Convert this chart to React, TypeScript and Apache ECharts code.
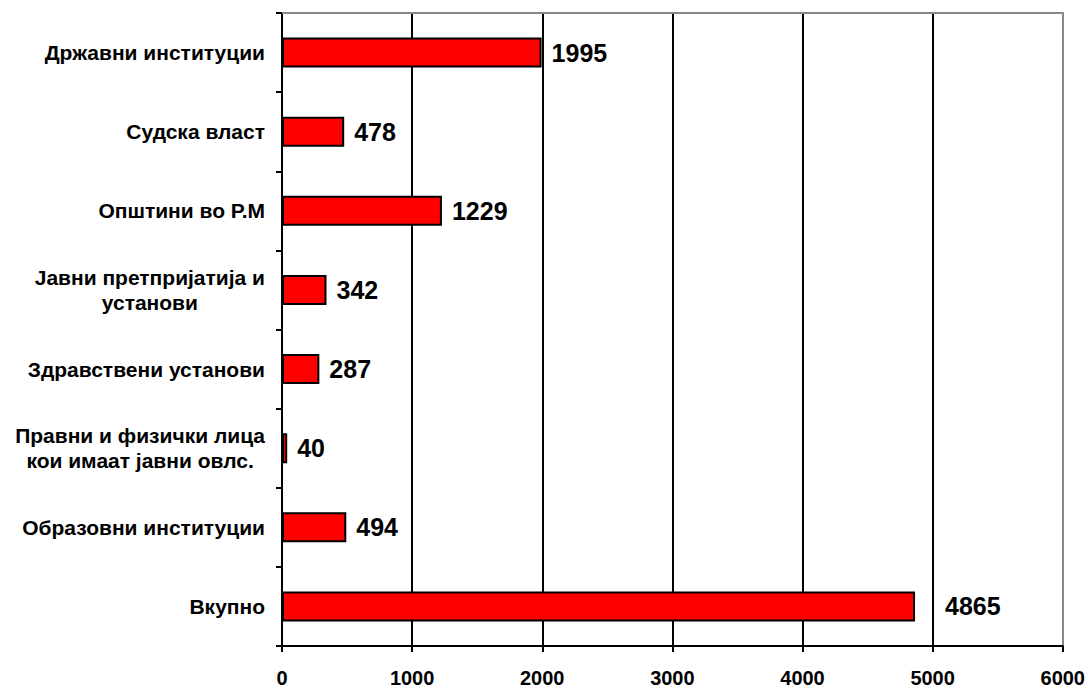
import React, { useEffect, useRef } from "react";
import * as echarts from "echarts";

const categories = [
  "Државни институции",
  "Судска власт",
  "Општини во Р.М",
  "Јавни претпријатија и\nустанови",
  "Здравствени установи",
  "Правни и физички лица\nкои имаат јавни овлс.",
  "Образовни институции",
  "Вкупно",
];
const values = [1995, 478, 1229, 342, 287, 40, 494, 4865];
const labelGaps = [10, 10, 10, 10, 10, 10, 10, 30];
const xTicks = { min: 0, max: 6000, interval: 1000 };

const GRID = { left: 282, right: 25, top: 13, bottom: 41 };

export default function App() {
  const ref = useRef<HTMLDivElement>(null);
  useEffect(() => {
    if (!ref.current) return;
    const chart = echarts.init(ref.current, null, { renderer: "svg" });
    const font = "'Liberation Sans', Arial, sans-serif";
    chart.setOption({
      animation: false,
      backgroundColor: "#ffffff",
      grid: { ...GRID },
      graphic: {
        elements: [
          {
            type: "rect",
            left: GRID.left,
            top: GRID.top - 1,
            z: 100,
            shape: { width: 1088 - GRID.right - GRID.left + 1, height: 2 },
            style: { fill: "#888888" },
          },
        ],
      },
      xAxis: {
        type: "value",
        min: xTicks.min,
        max: xTicks.max,
        interval: xTicks.interval,
        axisLine: { show: true, lineStyle: { color: "#000", width: 2 } },
        axisTick: { show: true, length: 6, lineStyle: { color: "#000", width: 2 } },
        axisLabel: {
          color: "#000",
          fontFamily: font,
          fontWeight: "bold",
          fontSize: 20,
          margin: 22,
          formatter: (v: number) => String(v),
        },
        splitLine: {
          show: true,
          lineStyle: {
            color: ["#000", "#000", "#000", "#000", "#000", "#000", "#888"],
            width: 2,
          },
        },
      },
      yAxis: {
        type: "category",
        inverse: true,
        data: categories,
        z: 5,
        axisLine: { show: true, lineStyle: { color: "#000", width: 2 } },
        axisTick: { show: true, length: 6, lineStyle: { color: "#000", width: 2 } },
        axisLabel: {
          color: "#000",
          fontFamily: font,
          fontWeight: "bold",
          fontSize: 21,
          margin: 17,
          lineHeight: 25,
          formatter: (v: string) =>
            v
              .split("\n")
              .map((l) => "{c|" + l + "}")
              .join("\n"),
          rich: {
            c: {
              align: "center",
              color: "#000",
              fontFamily: font,
              fontWeight: "bold",
              fontSize: 21,
              lineHeight: 25,
            },
          },
        },
        splitLine: { show: false },
      },
      series: [
        {
          type: "bar",
          data: values.map((v, i) => ({
            value: v,
            label: { distance: labelGaps[i] },
          })),
          barWidth: 30,
          itemStyle: { color: "#ff0000", borderColor: "#000", borderWidth: 2 },
          label: {
            show: true,
            position: "right",
            color: "#000",
            fontFamily: font,
            fontWeight: "bold",
            fontSize: 25,
          },
        },
      ],
    });
    return () => chart.dispose();
  }, []);
  return <div ref={ref} style={{ width: 1088, height: 688, position: "absolute", left: 0, top: 0 }} />;
}
